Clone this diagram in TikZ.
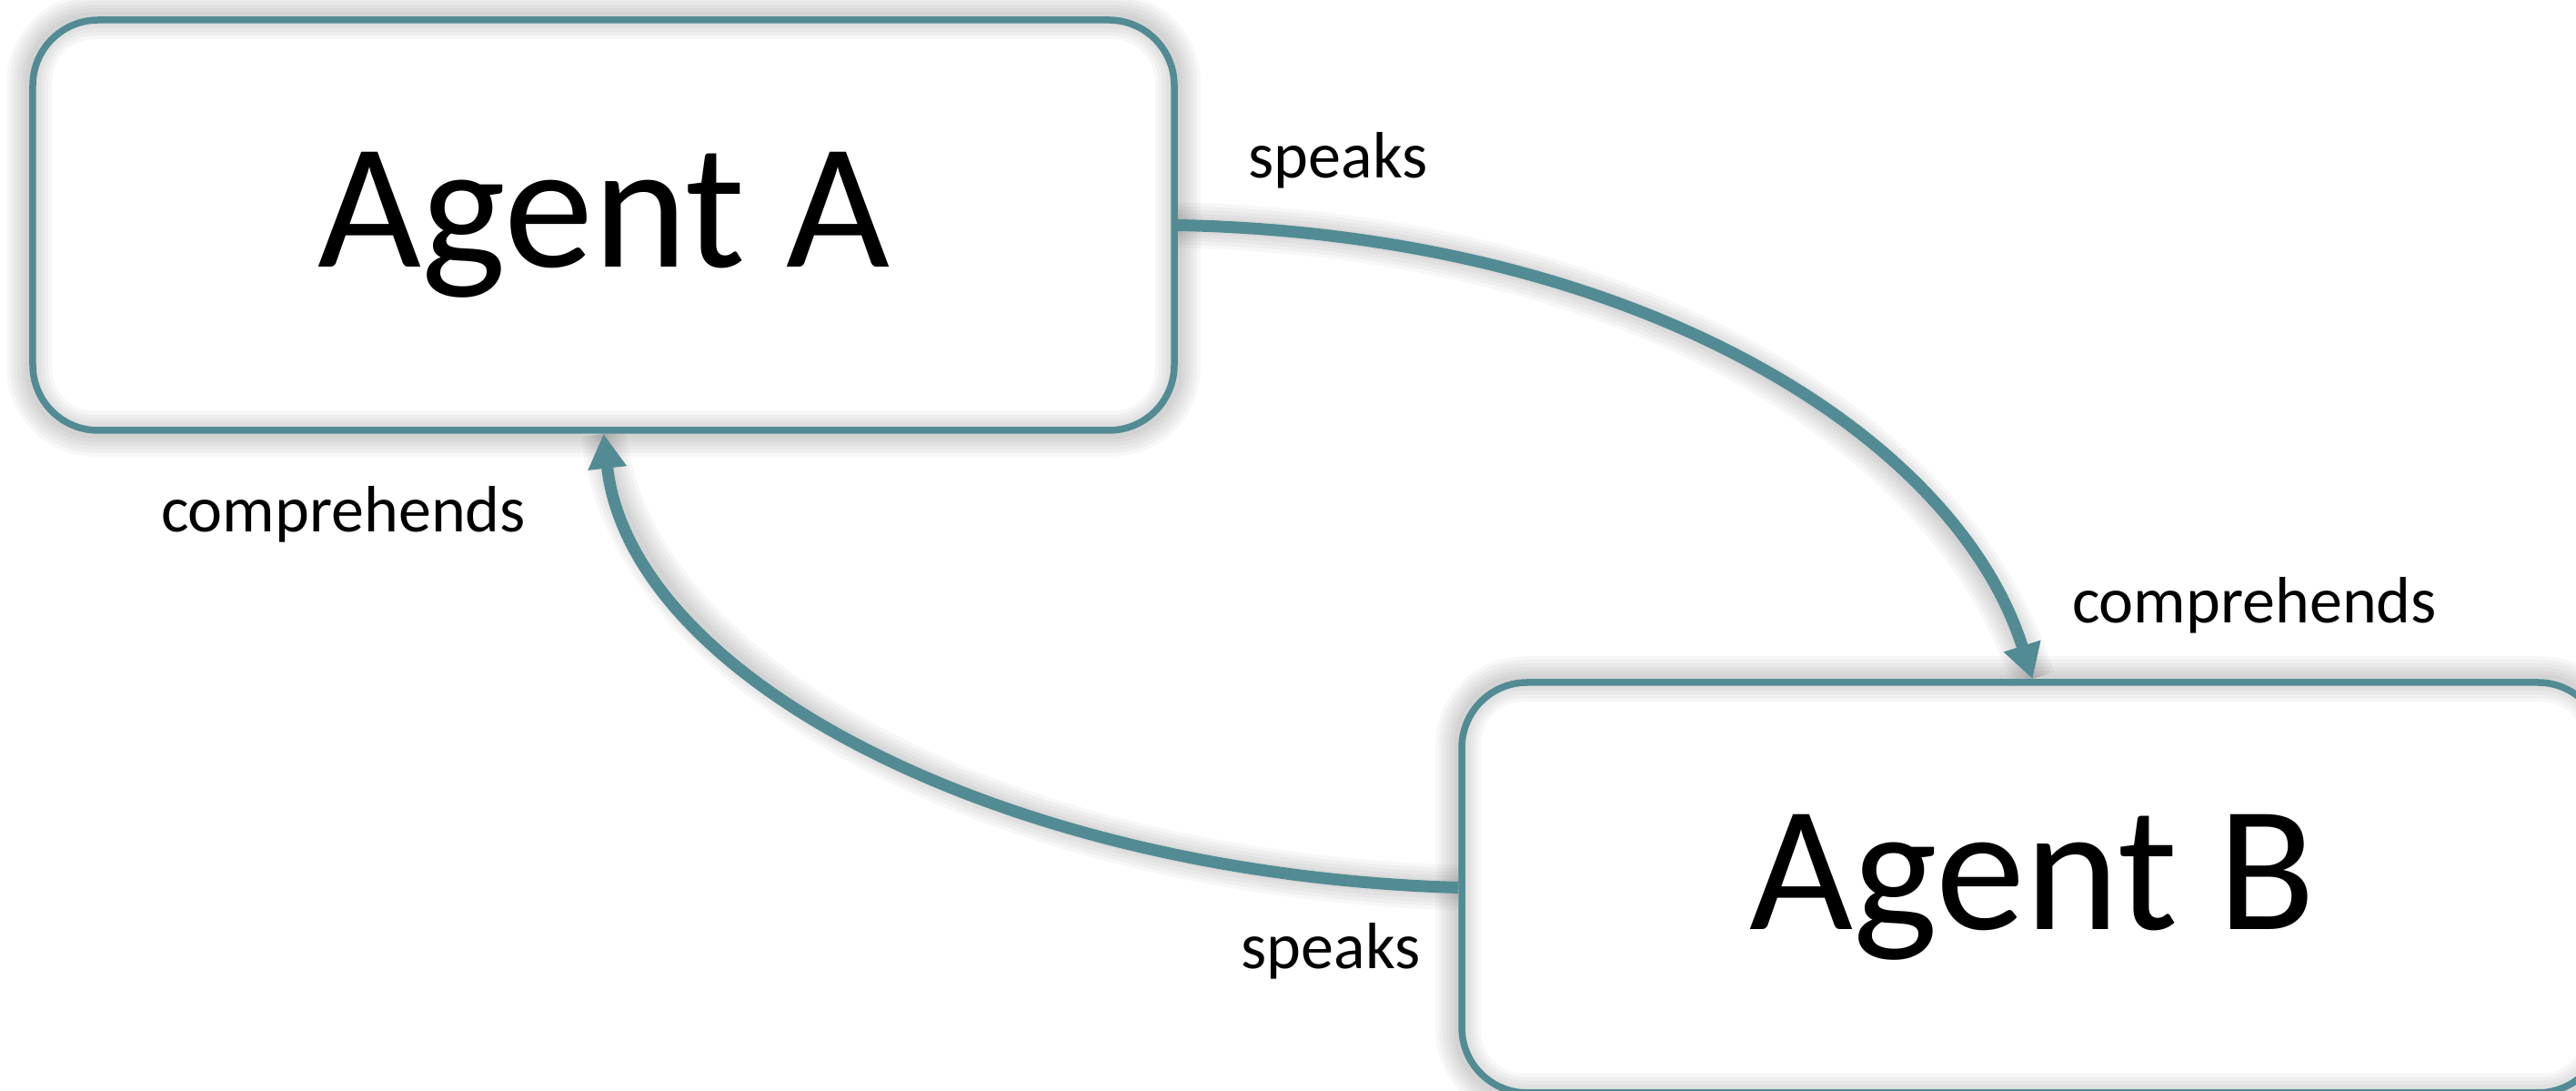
\documentclass[tikz,border=0pt]{standalone}
\usepackage{fontspec}
\setmainfont{Carlito}
\usetikzlibrary{arrows.meta}
\usetikzlibrary{backgrounds}

\definecolor{agentteal}{RGB}{82,139,147}

\tikzset{
  agent/.style={draw=agentteal, line width=0.075cm,
    rounded corners=0.72cm, minimum width=12.55cm, minimum height=4.51cm,
    font=\fontsize{56}{60}\selectfont},
  talk/.style={draw=agentteal, line width=0.13cm,
    -{Triangle[length=0.38cm,width=0.4cm]}},
  deed/.style={anchor=base, font=\fontsize{20.5}{24}\selectfont},
  haze/.style={draw=black, opacity=0.03, line join=round}
}

\begin{document}
\begin{tikzpicture}
  \useasboundingbox (0,0) rectangle (28.32,11.98);

  \node[agent] (agentA) at (6.635,9.505) {Agent A};
  \node[agent] (agentB) at (22.345,2.225) {Agent B};

  % the two arcs between the agents
  \draw[talk] (agentA.east) .. controls +(5.0,-0.1) and +(-0.85,2.7) .. (agentB.north);
  \draw[talk] (agentB.west) .. controls +(-5.0,0.15) and +(0.3,-2.7) .. (agentA.south);

  \node[deed] (speaksA) at (14.71,10.02) {speaks};
  \node[deed] (compA) at (3.775,6.13) {comprehends};
  \node[deed] (compB) at (24.785,5.13) {comprehends};
  \node[deed] (speaksB) at (14.63,1.33) {speaks};

  % soft shadow under every outline
  \begin{scope}[on background layer, transform canvas={yshift=-1.2mm}]
    \foreach \w in {0.1,0.18,...,0.5} {
      \draw[haze, line width=\w cm, rounded corners=0.72cm]
        (agentA.south west) rectangle (agentA.north east);
      \draw[haze, line width=\w cm, rounded corners=0.72cm]
        (agentB.south west) rectangle (agentB.north east);
      \draw[haze, line width=\w cm]
        (agentA.east) .. controls +(5.0,-0.1) and +(-0.85,2.7) .. (agentB.north);
      \draw[haze, line width=\w cm]
        (agentB.west) .. controls +(-5.0,0.15) and +(0.3,-2.7) .. (agentA.south);
    }
  \end{scope}
\end{tikzpicture}
\end{document}
